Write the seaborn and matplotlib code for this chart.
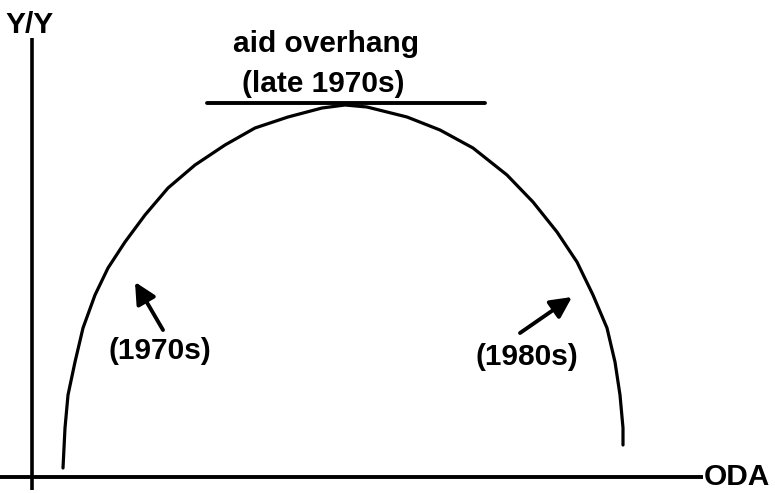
import matplotlib
matplotlib.use("Agg")
import matplotlib.pyplot as plt
import pandas as pd
import seaborn as sns

# ── data (ODA on x, Y/Y on y; origin at the axes crossing) ───────────────────
oda = [30, 32, 35, 42, 50, 62, 75, 92, 112, 135, 162, 192, 222, 255, 289, 312,
       334, 374, 407, 440, 474, 500, 524, 544, 560, 574, 582, 587, 590, 590]
growth = [9, 49, 82, 115, 149, 182, 209, 235, 262, 289, 312, 332, 349, 360,
          369, 372, 370, 360, 347, 329, 302, 275, 245, 215, 182, 149, 115, 82,
          49, 32]

# tangent at the top of the curve ("aid overhang")
tangent_x = [174, 452]
tangent_y = [374, 374]

# arrows along the curve: (tail, tip)
arrow_1970s = ((130, 147), (102, 195))
arrow_1980s = ((487, 144), (539, 180))

LINE_W = 2.3
FONT = 21.5

sns.set_style("white")
plt.rcParams["font.family"] = ["Liberation Sans", "DejaVu Sans"]
plt.rcParams["text.color"] = "black"

df = pd.DataFrame({"ODA": oda, "Y/Y": growth})

fig = plt.figure(figsize=(7.75, 4.93), dpi=100)
ax = fig.add_axes([0, 0, 1, 1])

sns.lineplot(data=df, x="ODA", y="Y/Y", sort=False, estimator=None,
             color="black", linewidth=LINE_W, ax=ax)
for line in ax.lines:
    line.set_solid_joinstyle("round")
sns.lineplot(x=tangent_x, y=tangent_y, color="black", linewidth=2.8, ax=ax)

# hand-drawn style axes
ax.plot([-1, -1], [-13, 439], color="black", linewidth=2.6,
        solid_capstyle="butt")
ax.plot([-33, 670], [0, 0], color="black", linewidth=2.8,
        solid_capstyle="butt")

txt = dict(fontsize=FONT, fontweight="bold", color="black")
ax.text(-3, 452, "Y/Y", ha="center", va="center", **txt)
ax.text(671, 0, "ODA", ha="left", va="center", **txt)
ax.text(293, 433, "aid overhang", ha="center", va="center", **txt)
ax.text(290, 393, "(late 1970s)", ha="center", va="center", **txt)
ax.text(127, 126, "(1970s)", ha="center", va="center", **txt)
ax.text(494, 120, "(1980s)", ha="center", va="center", **txt)

for tail, tip in (arrow_1970s, arrow_1980s):
    ax.annotate("", xy=tip, xytext=tail,
                arrowprops=dict(arrowstyle="-|>", color="black", lw=2.8,
                                mutation_scale=32, shrinkA=0, shrinkB=0))

ax.set_xlim(-33, 742)
ax.set_ylim(-16, 477)
ax.set_axis_off()

fig.savefig("out.png", dpi=100)
